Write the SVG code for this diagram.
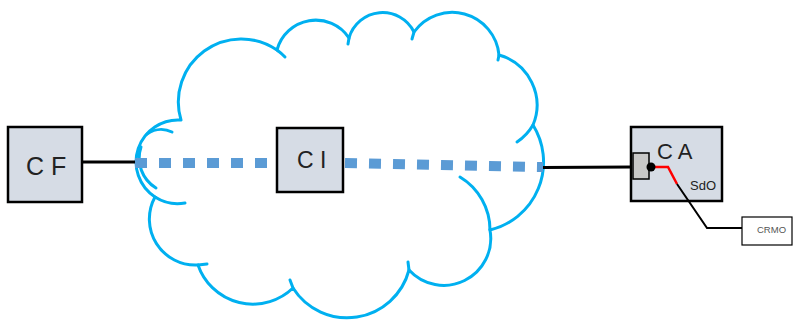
<svg xmlns="http://www.w3.org/2000/svg" width="793" height="320" viewBox="0 0 793 320">
<style>
.cloud{fill:none;stroke:#00B0F0;stroke-width:3;stroke-linecap:round}
.box{fill:#D6DCE5;stroke:#000;stroke-width:2.5}
.lbl{font-family:"Liberation Sans",Arial,sans-serif;fill:#222}
.dot{fill:none;stroke:#5B9BD5;stroke-width:10;stroke-dasharray:12 12}
.wire{fill:none;stroke:#000;stroke-width:3}
</style>
<rect width="793" height="320" fill="#fff"/>
<g id="cloud">
<path d="M181,120 A63,63 0 0 1 277,50 A40,40 0 0 1 349,38 A35,35 0 0 1 414,32 A47,47 0 0 1 499,55 A52,52 0 0 1 533,125 A70,70 0 0 1 490,230 A47,47 0 0 1 409,270 A64,64 0 0 1 293,288 A58,58 0 0 1 198,265 A46,46 0 0 1 155,197 A42,42 0 0 1 181,120 Z" fill="#fff" stroke="none"/>
<path class="cloud" d="M181,120 A63,63 0 0 1 277,50 A40,40 0 0 1 349,38 A35,35 0 0 1 414,32 A47,47 0 0 1 499,55 A52,52 0 0 1 533,125 A70,70 0 0 1 490,230 A47,47 0 0 1 409,270 A64,64 0 0 1 293,288 A58,58 0 0 1 198,265 A46,46 0 0 1 155,197 A42,42 0 0 1 181,120"/>
<path class="cloud" d="M277,50 A63,63 0 0 1 285,57"/>
<path class="cloud" d="M349,38 L348,44"/>
<path class="cloud" d="M414,32 L412,39"/>
<path class="cloud" d="M499,55 L498,60"/>
<path class="cloud" d="M533,125 A52,52 0 0 1 517,142"/>
<path class="cloud" d="M460,177 A62,62 0 0 1 490,230"/>
<path class="cloud" d="M409,270 L408,262"/>
<path class="cloud" d="M293,288 L290,280"/>
<path class="cloud" d="M198,265 L207,264"/>
<path class="cloud" d="M155,197 A42,42 0 0 0 185,203"/>
<path class="cloud" d="M147,134 A25,25 0 0 1 172,132"/>
<path class="cloud" d="M141,147 A35,35 0 0 0 156,188"/>
</g>
<g id="CF">
<rect class="box" x="8" y="127" width="74" height="75"/>
<text class="lbl" x="26" y="175" font-size="25">C F</text>
</g>
<g id="CI">
<rect class="box" x="277" y="128" width="66" height="64"/>
<text class="lbl" x="297" y="168" font-size="23">C I</text>
</g>
<g id="CA">
<rect class="box" x="631" y="127" width="91" height="74"/>
<rect x="633" y="153" width="16" height="26" fill="#C8C8C8" stroke="#000" stroke-width="1.5"/>
<text class="lbl" x="657" y="159" font-size="22">C A</text>
<text class="lbl" x="690" y="190" font-size="13" fill="#111">SdO</text>
</g>
<g id="CRMO">
<rect x="742" y="217" width="50" height="28" fill="#fff" stroke="#000" stroke-width="1.2"/>
<text class="lbl" x="757" y="232.5" font-size="9.5" style="fill:#555">CRMO</text>
</g>
<g id="connectors">
<path class="dot" d="M135,163 L277,163"/>
<path class="dot" d="M345,163 L543,167"/>
<path class="wire" d="M83,162 L135,162"/>
<path class="wire" stroke-width="3.5" d="M543,167.5 L632,167"/>
<path fill="none" stroke="#FF0000" stroke-width="2.5" d="M651,167 L668,167 L677,184"/>
<path fill="none" stroke="#000" stroke-width="2" d="M677,184 L707,228 L742,228"/>
<circle cx="651" cy="167" r="4.5" fill="#000"/>
</g>
</svg>
